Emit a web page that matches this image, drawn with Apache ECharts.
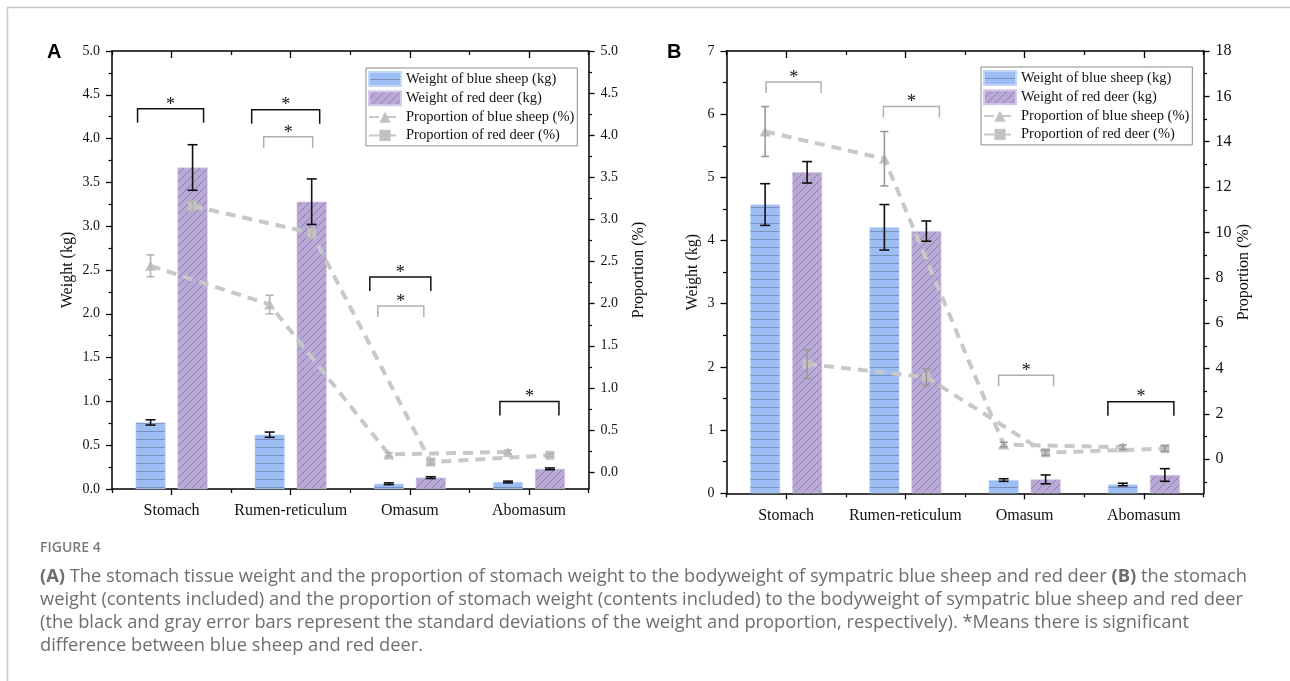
<!DOCTYPE html>
<html><head><meta charset="utf-8">
<script src="https://cdn.jsdelivr.net/npm/echarts@6/dist/echarts.min.js"></script>
<style>html,body{margin:0;padding:0;background:#fff}#c{width:1290px;height:681px}</style>
</head><body><div id="c"></div>
<script>
// ---------------- DATA ----------------
const categories = ['Stomach', 'Rumen-reticulum', 'Omasum', 'Abomasum'];
const seriesNames = ['Weight of blue sheep (kg)', 'Weight of red deer (kg)', 'Proportion of blue sheep (%)', 'Proportion of red deer (%)'];

// Panel A: stomach tissue weight
const weightSheepA = [0.76, 0.62, 0.06, 0.08];
const weightSheepSdA = [0.03, 0.03, 0.01, 0.01];
const weightDeerA = [3.67, 3.28, 0.13, 0.23];
const weightDeerSdA = [0.26, 0.26, 0.01, 0.01];
const propSheepA = [2.45, 1.99, 0.21, 0.24];
const propSheepSdA = [0.13, 0.11, 0.02, 0.02];
const propDeerA = [3.16, 2.84, 0.12, 0.20];
const propDeerSdA = [0.06, 0.06, 0.03, 0.02];
const sigA = [ // significance brackets: category, level on weight axis, which variable
  {cat: 0, level: 4.34, kind: 'weight'},
  {cat: 1, level: 4.33, kind: 'weight'},
  {cat: 1, level: 4.02, kind: 'proportion'},
  {cat: 2, level: 2.42, kind: 'weight'},
  {cat: 2, level: 2.09, kind: 'proportion'},
  {cat: 3, level: 1.00, kind: 'weight'}
];

// Panel B: stomach weight (contents included)
const weightSheepB = [4.57, 4.21, 0.21, 0.14];
const weightSheepSdB = [0.33, 0.36, 0.02, 0.02];
const weightDeerB = [5.08, 4.15, 0.22, 0.29];
const weightDeerSdB = [0.17, 0.16, 0.07, 0.10];
const propSheepB = [14.45, 13.25, 0.65, 0.53];
const propSheepSdB = [1.10, 1.20, 0.10, 0.10];
const propDeerB = [4.20, 3.62, 0.29, 0.47];
const propDeerSdB = [0.64, 0.36, 0.12, 0.12];
const sigB = [
  {cat: 0, level: 6.51, kind: 'proportion'},
  {cat: 1, level: 6.12, kind: 'proportion'},
  {cat: 2, level: 1.87, kind: 'proportion'},
  {cat: 3, level: 1.45, kind: 'weight'}
];

// Tick labels
const weightTicksA = [0, 0.5, 1, 1.5, 2, 2.5, 3, 3.5, 4, 4.5, 5];
const propTicksA = [0, 0.5, 1, 1.5, 2, 2.5, 3, 3.5, 4, 4.5, 5];
const propMinorA = [0.25, 0.75, 1.25, 1.75, 2.25, 2.75, 3.25, 3.75, 4.25, 4.75];
const weightTicksB = [0, 1, 2, 3, 4, 5, 6, 7];
const propTicksB = [0, 2, 4, 6, 8, 10, 12, 14, 16, 18];
const propMinorB = [-1, 1, 3, 5, 7, 9, 11, 13, 15, 17];

// ---------------- LAYOUT / STYLE ----------------
const SERIF = 'Liberation Serif';
const SANS = 'Open Sans';
const BAR_W = 30, BAR_GAP = 12;
const gridA = {left: 112, top: 51, width: 476.5, height: 438};
const gridB = {left: 726.5, top: 51, width: 477, height: 442.3};
// bracket x-extent relative to category centre (px), per bracket
const spansA = [[-34, 32], [-39, 29], [-27, 22], [-40, 21], [-32, 14], [-29, 30]];
const spansB = [[-20, 35], [-22, 34], [-26, 29], [-36, 30]];

function patternH() {
  const c = document.createElement('canvas'); c.width = 8; c.height = 8;
  const g = c.getContext('2d');
  g.fillStyle = '#9dbdf5'; g.fillRect(0, 0, 8, 8);
  g.fillStyle = '#7a8fba'; g.fillRect(0, 7, 8, 1);
  return c;
}
function patternD() {
  const s = 8;
  const c = document.createElement('canvas'); c.width = s; c.height = s;
  const g = c.getContext('2d');
  g.fillStyle = '#b9a9d6'; g.fillRect(0, 0, s, s);
  g.strokeStyle = '#8676a2'; g.lineWidth = 0.8;
  g.beginPath();
  g.moveTo(-1, s + 1); g.lineTo(s + 1, -1);
  g.moveTo(-1, 1); g.lineTo(1, -1);
  g.moveTo(s - 1, s + 1); g.lineTo(s + 1, s - 1);
  g.stroke();
  return c;
}
const fillSheep = {image: patternH(), repeat: 'repeat'};
const fillDeer = {image: patternD(), repeat: 'repeat'};

const chart = echarts.init(document.getElementById('c'), null, {renderer: 'canvas'});

const option = {
  animation: false,
  backgroundColor: '#fff',
  grid: [gridA, gridB],
  xAxis: [],
  yAxis: [],
  series: [],
  legend: [],
  graphic: []
};

function addPanel(p, grid, d) {
  const g = p;
  const xBase = option.xAxis.length;
  const yBase = option.yAxis.length;
  const axisLine = {show: true, onZero: false, lineStyle: {color: '#000', width: 1.5}};
  const noLine = {show: false, onZero: false};
  const tickStyle = {color: '#000', width: 1.3};
  // bottom category axis (labels, ticks at centres)
  option.xAxis.push({type: 'category', gridIndex: g, data: categories, position: 'bottom',
    axisLine: axisLine, axisTick: {show: true, alignWithLabel: true, inside: false, length: 6, lineStyle: tickStyle},
    axisLabel: {fontFamily: SERIF, fontSize: 16, color: '#111', margin: 14, interval: 0}, splitLine: {show: false}});
  // bottom minor ticks at boundaries
  option.xAxis.push({type: 'category', gridIndex: g, data: categories, position: 'bottom',
    axisLine: noLine, axisTick: {show: true, alignWithLabel: false, interval: 0, length: 4, lineStyle: tickStyle},
    axisLabel: {show: false}, splitLine: {show: false}});
  // top frame with inward ticks
  option.xAxis.push({type: 'category', gridIndex: g, data: categories, position: 'top',
    axisLine: axisLine, axisTick: {show: true, alignWithLabel: true, inside: true, length: 7, lineStyle: tickStyle},
    axisLabel: {show: false}, splitLine: {show: false}});
  option.xAxis.push({type: 'category', gridIndex: g, data: categories, position: 'top',
    axisLine: noLine, axisTick: {show: true, alignWithLabel: false, interval: 0, inside: true, length: 4, lineStyle: tickStyle},
    axisLabel: {show: false}, splitLine: {show: false}});
  // hidden value axis for the proportion lines (points at bar centres)
  option.xAxis.push({type: 'value', gridIndex: g, min: -0.5, max: categories.length - 0.5, show: false,
    axisLine: noLine});

  // left weight axis
  const wt = d.weightTicks;
  option.yAxis.push({type: 'value', gridIndex: g, position: 'left', min: wt[0], max: wt[wt.length - 1], interval: wt[1] - wt[0],
    name: 'Weight (kg)', nameLocation: 'middle', nameGap: d.leftNameGap, nameTextStyle: {fontFamily: SERIF, fontSize: 16, color: '#111'},
    axisLine: axisLine, axisTick: {show: true, inside: false, length: 6, lineStyle: tickStyle},
    minorTick: {show: true, splitNumber: 2, length: 3.5, lineStyle: {color: '#000', width: 1.2}},
    axisLabel: {fontFamily: SERIF, fontSize: 14, color: '#111', margin: 12, formatter: v => d.leftFmt(v)},
    splitLine: {show: false}, minorSplitLine: {show: false}});
  // right proportion axis
  const pt = d.propTicks;
  option.yAxis.push({type: 'value', gridIndex: g, position: 'right', min: d.propMin, max: pt[pt.length - 1],
    name: 'Proportion (%)', nameLocation: 'middle', nameGap: d.rightNameGap, nameTextStyle: {fontFamily: SERIF, fontSize: 16, color: '#111'},
    axisLine: axisLine, axisTick: {show: true, inside: false, length: 6, customValues: pt, lineStyle: tickStyle},
    axisLabel: {fontFamily: SERIF, fontSize: d.rightFont, color: '#111', margin: 12, customValues: pt, formatter: v => d.rightFmt(v)},
    splitLine: {show: false}});
  // right minor ticks
  option.yAxis.push({type: 'value', gridIndex: g, position: 'right', min: d.propMin, max: pt[pt.length - 1],
    axisLine: noLine, axisTick: {show: true, inside: false, length: 3.5, customValues: d.propMinor, lineStyle: {color: '#000', width: 1.2}},
    axisLabel: {show: false, customValues: d.propMinor}, splitLine: {show: false}});

  const xCat = xBase, xVal = xBase + 4, yW = yBase, yP = yBase + 1;
  const band = grid.width / categories.length;
  const offPx = (BAR_W + BAR_GAP) / 2;
  const off = offPx / band;

  option.series.push({type: 'bar', name: seriesNames[0], xAxisIndex: xCat, yAxisIndex: yW, data: d.wS,
    barWidth: BAR_W, barGap: (BAR_GAP / BAR_W * 100) + '%', itemStyle: {color: fillSheep, borderColor: '#c4d6f7', borderWidth: 0.6}, z: 2});
  option.series.push({type: 'bar', name: seriesNames[1], xAxisIndex: xCat, yAxisIndex: yW, data: d.wD,
    barWidth: BAR_W, itemStyle: {color: fillDeer, borderColor: '#d4c9e6', borderWidth: 0.6}, z: 2});

  function errRender(dx, color, cap, lw) {
    return function (params, api) {
      const x = api.value(0), v = api.value(1), sd = api.value(2);
      const t = api.coord([x, v + sd]), b = api.coord([x, v - sd]);
      const cx = t[0] + dx;
      const st = {stroke: color, lineWidth: lw};
      return {type: 'group', children: [
        {type: 'line', shape: {x1: cx, y1: t[1], x2: cx, y2: b[1]}, style: st},
        {type: 'line', shape: {x1: cx - cap / 2, y1: t[1], x2: cx + cap / 2, y2: t[1]}, style: st},
        {type: 'line', shape: {x1: cx - cap / 2, y1: b[1], x2: cx + cap / 2, y2: b[1]}, style: st}
      ]};
    };
  }
  option.series.push({type: 'custom', name: 'errWS', xAxisIndex: xCat, yAxisIndex: yW, encode: {x: 0, y: 1},
    data: d.wS.map((v, i) => [i, v, d.wSsd[i]]), renderItem: errRender(-offPx, '#111', 10, 1.6), z: 5, silent: true});
  option.series.push({type: 'custom', name: 'errWD', xAxisIndex: xCat, yAxisIndex: yW, encode: {x: 0, y: 1},
    data: d.wD.map((v, i) => [i, v, d.wDsd[i]]), renderItem: errRender(offPx, '#111', 10, 1.6), z: 5, silent: true});

  const lineStyle = {type: [10, 7], width: 4, color: '#c8c8c8'};
  option.series.push({type: 'line', name: seriesNames[2], xAxisIndex: xVal, yAxisIndex: yP,
    data: d.pS.map((v, i) => [i - off, v]), symbol: 'triangle', symbolSize: [11, 10], showSymbol: true,
    lineStyle: lineStyle, itemStyle: {color: '#c2c2c2'}, z: 4});
  option.series.push({type: 'line', name: seriesNames[3], xAxisIndex: xVal, yAxisIndex: yP,
    data: d.pD.map((v, i) => [i + off, v]), symbol: 'rect', symbolSize: 9, showSymbol: true,
    lineStyle: lineStyle, itemStyle: {color: '#c2c2c2'}, z: 4});
  option.series.push({type: 'custom', name: 'errPS', xAxisIndex: xVal, yAxisIndex: yP, encode: {x: 0, y: 1},
    data: d.pS.map((v, i) => [i - off, v, d.pSsd[i]]), renderItem: errRender(0, d.propErrColor, 8, 1.6), z: 6, silent: true});
  option.series.push({type: 'custom', name: 'errPD', xAxisIndex: xVal, yAxisIndex: yP, encode: {x: 0, y: 1},
    data: d.pD.map((v, i) => [i + off, v, d.pDsd[i]]), renderItem: errRender(0, d.propErrColor, 8, 1.6), z: 6, silent: true});

  // significance brackets
  option.series.push({type: 'custom', name: 'sig', xAxisIndex: xCat, yAxisIndex: yW, encode: {x: 0, y: 1},
    data: d.sig.map(s => [s.cat, s.level]), z: 7, silent: true,
    renderItem: function (params, api) {
      const s = d.sig[params.dataIndex];
      const span = d.spans[params.dataIndex];
      const p0 = api.coord([api.value(0), api.value(1)]);
      const col = s.kind === 'weight' ? '#111' : '#b0b0b0';
      const leg = s.kind === 'weight' ? 14 : 11;
      const x1 = p0[0] + span[0], x2 = p0[0] + span[1], y = p0[1];
      return {type: 'group', children: [
        {type: 'polyline', shape: {points: [[x1, y + leg], [x1, y], [x2, y], [x2, y + leg]]},
          style: {stroke: col, lineWidth: 1.5, fill: null}},
        {type: 'text', style: {text: '*', x: (x1 + x2) / 2, y: y - 4, align: 'center', verticalAlign: 'middle',
          font: '18px "' + SERIF + '"', fill: '#111'}}
      ]};
    }});

  option.legend.push({show: true, orient: 'vertical', left: d.legendLeft, top: d.legendTop,
    itemWidth: 32, itemHeight: 14, itemGap: 3.3, padding: [3, 3, 3, 2], borderColor: '#8c8c8c', borderWidth: 1,
    selectedMode: false,
    textStyle: {fontFamily: SERIF, fontSize: 14.5, color: '#111'},
    data: [{name: seriesNames[0], icon: 'rect'}, {name: seriesNames[1], icon: 'rect'}, {name: seriesNames[2]}, {name: seriesNames[3]}]});
}

addPanel(0, gridA, {
  weightTicks: weightTicksA, propTicks: propTicksA, propMinor: propMinorA, propMin: -0.2,
  leftFmt: v => v.toFixed(1), rightFmt: v => v.toFixed(1), rightFont: 14,
  leftNameGap: 36, rightNameGap: 42,
  wS: weightSheepA, wSsd: weightSheepSdA, wD: weightDeerA, wDsd: weightDeerSdA,
  pS: propSheepA, pSsd: propSheepSdA, pD: propDeerA, pDsd: propDeerSdA, propErrColor: '#b4b4b4',
  sig: sigA, spans: spansA, legendLeft: 366, legendTop: 68
});
addPanel(1, gridB, {
  weightTicks: weightTicksB, propTicks: propTicksB, propMinor: propMinorB, propMin: -1.5,
  leftFmt: v => String(v), rightFmt: v => String(v), rightFont: 16,
  leftNameGap: 26, rightNameGap: 32,
  wS: weightSheepB, wSsd: weightSheepSdB, wD: weightDeerB, wDsd: weightDeerSdB,
  pS: propSheepB, pSsd: propSheepSdB, pD: propDeerB, pDsd: propDeerSdB, propErrColor: '#999999',
  sig: sigB, spans: spansB, legendLeft: 981, legendTop: 67
});

const capColor = '#6e6e6e';
const capSize = 18.3;
const capFont = capSize + 'px "' + SANS + '"';
const capRich = {b: {fontWeight: 'bold', fontFamily: SANS, fontSize: capSize, fill: capColor}};
const captionLines = [
  '{b|(A)} The stomach tissue weight and the proportion of stomach weight to the bodyweight of sympatric blue sheep and red deer {b|(B)} the stomach',
  'weight (contents included) and the proportion of stomach weight (contents included) to the bodyweight of sympatric blue sheep and red deer',
  '(the black and gray error bars represent the standard deviations of the weight and proportion, respectively). *Means there is significant',
  'difference between blue sheep and red deer.'
];
option.graphic = [
  {type: 'line', shape: {x1: 7, y1: 7.5, x2: 1290, y2: 7.5}, style: {stroke: '#c8c8c8', lineWidth: 1.5}, silent: true},
  {type: 'line', shape: {x1: 7.5, y1: 7, x2: 7.5, y2: 681}, style: {stroke: '#c8c8c8', lineWidth: 1.5}, silent: true},
  {type: 'text', style: {text: 'A', x: 47, y: 52, verticalAlign: 'middle', font: 'bold 20px "Liberation Sans"', fill: '#000'}, silent: true},
  {type: 'text', style: {text: 'B', x: 667, y: 52, verticalAlign: 'middle', font: 'bold 20px "Liberation Sans"', fill: '#000'}, silent: true},
  {type: 'text', style: {text: 'FIGURE 4', x: 40, y: 548, verticalAlign: 'middle', font: '600 14px "' + SANS + '"', fill: '#7a7a7a'}, silent: true}
].concat(captionLines.map((t, i) => ({type: 'text', silent: true,
  style: {text: t, x: 40, y: 577 + i * 22.8, verticalAlign: 'middle', font: capFont, fill: capColor, rich: capRich}})));

chart.setOption(option);
</script>
</body></html>
